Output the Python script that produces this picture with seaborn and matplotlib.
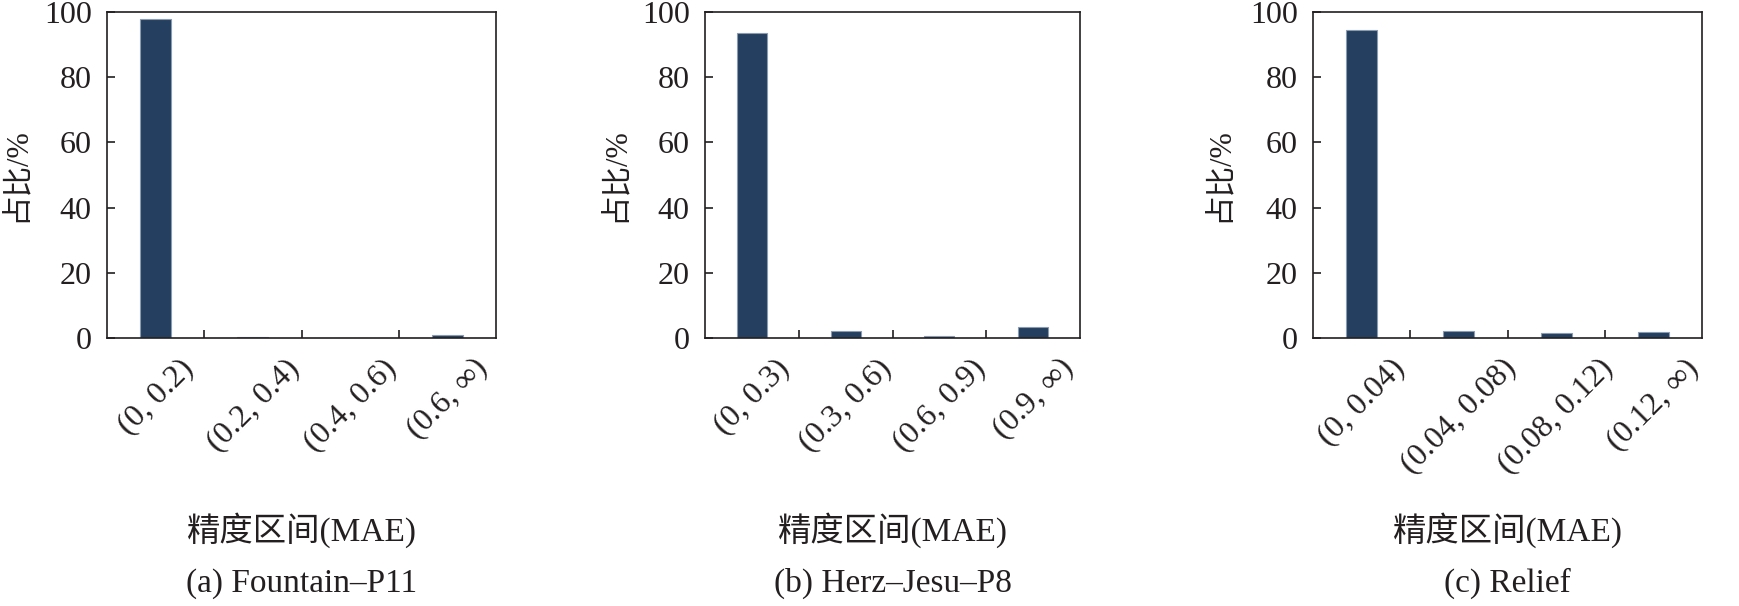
import numpy as np
import pandas as pd
import matplotlib
matplotlib.use("Agg")
import matplotlib.pyplot as plt
import seaborn as sns

# data
bins_a = ["(0, 0.2)", "(0.2, 0.4)", "(0.4, 0.6)", "(0.6, ∞)"]
vals_a = [97.8, 0.4, 0.0, 1.0]

bins_b = ["(0, 0.3)", "(0.3, 0.6)", "(0.6, 0.9)", "(0.9, ∞)"]
vals_b = [93.6, 2.0, 0.7, 3.5]

bins_c = ["(0, 0.04)", "(0.04, 0.08)", "(0.08, 0.12)", "(0.12, ∞)"]
vals_c = [94.4, 2.2, 1.5, 1.9]

captions = ["(a) Fountain–P11", "(b) Herz–Jesu–P8", "(c) Relief"]
xlab = "精度区间(MAE)"
ylab = "占比/%"

sns.set_theme(style="white")
plt.rcParams['font.family'] = ['Liberation Serif', 'Noto Sans CJK SC', 'DejaVu Sans']

txt = "#231f20"
bar_col = "#243f5f"
fs_tick = 23
fs_lab = 24

fig = plt.figure(figsize=(17.39, 6.06), dpi=100)
W, H = 1739, 606
# axes boxes in pixels: left, right
boxes = [(107, 496), (705, 1080), (1313, 1702)]
top_px, bot_px = 12, 338

panels = [(bins_a, vals_a), (bins_b, vals_b), (bins_c, vals_c)]
ylab_right = [31, 630, 1234]

for i, ((bins, vals), (l, r)) in enumerate(zip(panels, boxes)):
    ax = fig.add_axes([l / W, (H - bot_px) / H, (r - l) / W, (bot_px - top_px) / H])
    df = pd.DataFrame({"bin": bins, "pct": vals})
    sns.barplot(data=df, x="bin", y="pct", order=bins, ax=ax, color=bar_col,
                saturation=1, width=0.32, edgecolor="#8a9ab0", linewidth=0.8)
    ax.set_xlim(-0.5, 3.5)
    ax.set_ylim(0, 100)
    ax.set_yticks([0, 20, 40, 60, 80, 100])
    ax.set_xticks(range(4))
    ax.set_xticklabels(bins, rotation=45, ha="center", va="top")
    ax.set_xticks([0.5, 1.5, 2.5], minor=True)
    ax.tick_params(axis="x", which="major", length=0, pad=11, labelsize=fs_tick, colors=txt)
    ax.tick_params(axis="x", which="minor", direction="in", length=6, width=1.2,
                   color=txt, bottom=True)
    ax.tick_params(axis="y", direction="in", length=6, width=1.2, pad=11,
                   labelsize=fs_tick, colors=txt, left=True)
    for s in ax.spines.values():
        s.set_color(txt)
        s.set_linewidth(1.2)
        s.set_visible(True)

    hpx = bot_px - top_px
    wpx = r - l
    ax.set_xlabel(xlab, fontsize=fs_lab, color=txt, va="top")
    ax.xaxis.set_label_coords(0.5, -(512 - bot_px) / hpx)
    ax.set_ylabel(ylab, fontsize=22, color=txt)
    ax.yaxis.set_label_coords(-(l - ylab_right[i]) / wpx, 0.5)
    ax.text(0.5, -(568 - bot_px) / hpx, captions[i], transform=ax.transAxes,
            ha="center", va="top", fontsize=fs_lab, color=txt)

fig.savefig("out.png", dpi=100)
